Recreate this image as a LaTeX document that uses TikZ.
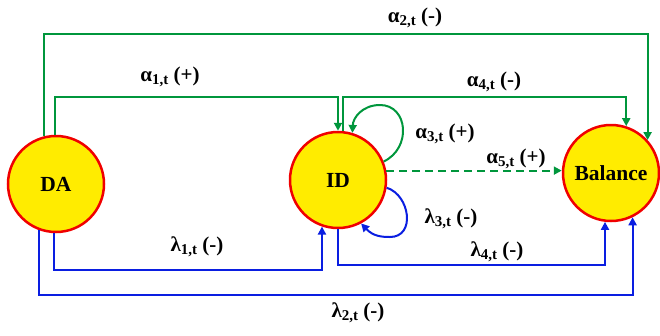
\documentclass[tikz,border=0pt]{standalone}
\usepackage{fontspec}
\setmainfont{Liberation Serif}
\usetikzlibrary{arrows.meta}
\definecolor{gr}{RGB}{0,150,60}
\definecolor{bl}{RGB}{10,30,225}
\definecolor{yel}{RGB}{255,236,0}
\definecolor{rd}{RGB}{240,0,0}
\newcommand\sbx[1]{\raisebox{-0.3ex}{\fontsize{15}{15}\selectfont #1}}
\begin{document}
\begin{tikzpicture}[x=1pt,y=-1pt,
  st/.style={circle,draw=rd,fill=yel,line width=2.5pt,minimum size=96pt,inner sep=0pt,
    font=\fontsize{21.5}{21.5}\selectfont\bfseries},
  gline/.style={draw=gr,line width=2pt,-{Triangle[length=8pt,width=8pt]}},
  bline/.style={draw=bl,line width=2pt,-{Triangle[length=8pt,width=8pt]}},
  lab/.style={font=\fontsize{21}{21}\selectfont\bfseries,inner sep=0pt}]
\useasboundingbox (0,0) rectangle (660,335);
\node[st] (da) at (56,184) {DA};
\node[st] (id) at (338,180) {ID};
\node[st] (bal) at (611,173) {Balance};
\coordinate (h2) at (0,34);
\coordinate (h1) at (0,97);
\coordinate (l1) at (0,270);
\coordinate (l2) at (0,295);
\coordinate (l4) at (0,265);
% green
\draw[gline] (da.104) -- (da.104 |- h2) -| (bal.42);
\draw[gline] (da.91) -- (da.91 |- h1) -| (id.90);
\draw[gline] (id.84) -- (id.84 |- h1) -| (bal.72);
\draw[gline] (id.22) .. controls (412,148) and (408,105) .. (380,105)
   .. controls (362,105) and (353,118) .. (id.73);
\draw[gline,dash pattern=on 8pt off 5pt] (id.11) -- (bal.west |- id.11);
% blue
\draw[bline] (da.268) -- (da.268 |- l1) -| (id.251);
\draw[bline] (da.250) -- (da.250 |- l2) -| (bal.296);
\draw[bline] (id.270) -- (id.270 |- l4) -| (bal.263);
\draw[bline] (id.-9) .. controls (410,195) and (416,237) .. (390,237)
   .. controls (381,237) and (373,236) .. (id.-62);
% labels
\node[lab] (la2) at (415,18) {α\sbx{2,t} (-)};
\node[lab] (la1) at (170,77) {α\sbx{1,t} (+)};
\node[lab] (la4) at (494,82) {α\sbx{4,t} (-)};
\node[lab] (la3) at (445,134) {α\sbx{3,t} (+)};
\node[lab] (la5) at (516,159) {α\sbx{5,t} (+)};
\node[lab] (ll1) at (197,247) {λ\sbx{1,t} (-)};
\node[lab] (ll2) at (358,313) {λ\sbx{2,t} (-)};
\node[lab] (ll3) at (451,219) {λ\sbx{3,t} (-)};
\node[lab] (ll4) at (497,252) {λ\sbx{4,t} (-)};
\end{tikzpicture}
\end{document}
